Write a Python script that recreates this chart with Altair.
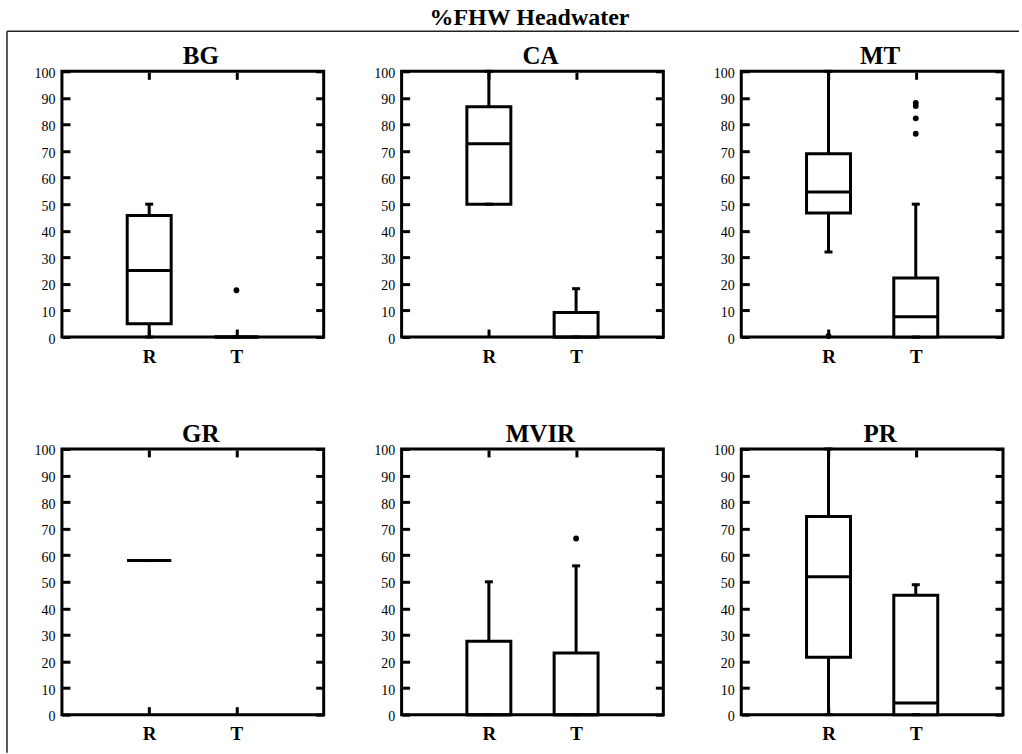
import altair as alt
import pandas as pd

# ---- data ----
panel_names = ["BG", "CA", "MT", "GR", "MVIR", "PR"]
groups = ["R", "T"]
# per panel: [R, T]
lower_whisker = [[0, 0], [50, 0], [32, 0], [58, None], [0, 0], [0, 0]]
q1_values = [[5, 0], [50, 0], [46.7, 0], [58, None], [0, 0], [21.6, 0]]
median_values = [[25, 0], [72.7, 0], [54.6, 7.6], [58, None], [0, 0], [51.9, 4.4]]
q3_values = [[45.7, 0], [86.7, 9.2], [69, 22.2], [58, None], [27.6, 23.2], [74.6, 44.9]]
upper_whisker = [[50, 0], [100, 18.2], [100, 50], [58, None], [50, 56], [100, 48.9]]

outlier_panel = ["BG", "MT", "MT", "MT", "MT", "MT", "MVIR"]
outlier_group = ["T", "R", "T", "T", "T", "T", "T"]
outlier_value = [17.6, 0.4, 88.1, 86.9, 82.3, 76.5, 66.3]

y_tick_values = [0, 10, 20, 30, 40, 50, 60, 70, 80, 90, 100]
main_title = "%FHW Headwater"

FONT = "Liberation Serif"

rows = []
for i, p in enumerate(panel_names):
    for j, g in enumerate(groups):
        if median_values[i][j] is None:
            continue
        rows.append(dict(panel=p, group=g, lo=lower_whisker[i][j], q1=q1_values[i][j],
                         med=median_values[i][j], q3=q3_values[i][j], hi=upper_whisker[i][j]))
stats = pd.DataFrame(rows)
outliers = pd.DataFrame({"panel": outlier_panel, "group": outlier_group, "value": outlier_value})

x_scale = alt.Scale(type="point", domain=groups, padding=1)
y_scale = alt.Scale(domain=[0, 100], nice=False, zero=False)

TICK = 8

axis_left = alt.Axis(orient="left", values=y_tick_values, title=None, domain=False, grid=False,
                     offset=-TICK, tickSize=TICK, tickWidth=3, tickColor="black",
                     labelFont=FONT, labelFontSize=14, labelColor="black", labelPadding=7,
                     labelOffset=2)
axis_bottom = alt.Axis(orient="bottom", title=None, domain=False, grid=False,
                       offset=-TICK, tickSize=TICK - 1, tickWidth=3, tickColor="black",
                       labelFont=FONT, labelFontSize=19, labelFontWeight="bold",
                       labelColor="black", labelPadding=11, labelAngle=0)
axis_right = alt.Axis(orient="right", values=y_tick_values, title=None, domain=False, grid=False,
                      offset=-TICK, tickSize=TICK, tickWidth=3, tickColor="black", labels=False)
axis_top = alt.Axis(orient="top", title=None, domain=False, grid=False,
                    offset=-TICK, tickSize=TICK - 1, tickWidth=3, tickColor="black", labels=False)

W, H = 262, 266


def panel(name, with_frame=False, with_main_title=False):
    s = stats[stats["panel"] == name]
    o = outliers[outliers["panel"] == name]
    base = alt.Chart(s)
    whisker = base.mark_rule(color="black", strokeWidth=3).encode(
        x=alt.X("group:N", scale=x_scale, axis=axis_bottom),
        y=alt.Y("lo:Q", scale=y_scale, axis=axis_left),
        y2="hi:Q",
    )
    box = base.mark_bar(size=44, fill="white", stroke="black", strokeWidth=3).encode(
        x=alt.X("group:N", scale=x_scale, axis=None),
        y=alt.Y("q1:Q", scale=y_scale, axis=None),
        y2="q3:Q",
    )
    med = base.mark_tick(orient="horizontal", size=44, thickness=3, color="black", opacity=1).encode(
        x=alt.X("group:N", scale=x_scale, axis=axis_top),
        y=alt.Y("med:Q", scale=y_scale, axis=axis_right),
    )
    cap_lo = base.mark_tick(orient="horizontal", size=8, thickness=3, color="black", opacity=1).encode(
        x=alt.X("group:N", scale=x_scale, axis=None),
        y=alt.Y("lo:Q", scale=y_scale, axis=None),
    )
    cap_hi = base.mark_tick(orient="horizontal", size=8, thickness=3, color="black", opacity=1).encode(
        x=alt.X("group:N", scale=x_scale, axis=None),
        y=alt.Y("hi:Q", scale=y_scale, axis=None),
    )
    pts = alt.Chart(o).mark_point(filled=True, size=34, color="black", opacity=1).encode(
        x=alt.X("group:N", scale=x_scale, axis=None),
        y=alt.Y("value:Q", scale=y_scale, axis=None),
    )
    label = alt.Chart(pd.DataFrame({"name": [name]})).mark_text(
        font=FONT, fontSize=25, fontWeight="bold", color="black", align="center",
        baseline="alphabetic", clip=False,
    ).encode(text="name:N", x=alt.value(W / 2 + 8), y=alt.value(-7))
    layers = [whisker, box, med, cap_lo, cap_hi, pts, label]
    if with_frame:
        fd = pd.DataFrame({"k": [0]})
        top_rule = alt.Chart(fd).mark_rule(color="#222222", strokeWidth=1.5, clip=False).encode(
            x=alt.value(-55), x2=alt.value(958), y=alt.value(-40))
        left_rule = alt.Chart(fd).mark_rule(color="#222222", strokeWidth=1.5, clip=False).encode(
            x=alt.value(-55), y=alt.value(-40), y2=alt.value(682))
        layers += [top_rule, left_rule]
    if with_main_title:
        head = alt.Chart(pd.DataFrame({"t": [main_title]})).mark_text(
            font=FONT, fontSize=24, fontWeight="bold", color="black", align="center",
            baseline="alphabetic", clip=False,
        ).encode(text="t:N", x=alt.value(W / 2 - 3), y=alt.value(-46))
        layers.append(head)
    return alt.layer(*layers).properties(width=W, height=H).resolve_axis(
        x="independent", y="independent")


panels = [panel(n, n == "BG", n == "CA") for n in panel_names]

chart = alt.concat(*panels, columns=3, spacing={"row": 112, "column": 78}, bounds="flush").properties(
    padding={"left": 4, "top": 4, "right": 0, "bottom": 0},
    background="white",
).configure_view(stroke="black", strokeWidth=3)

chart.save("out.html", embed_options={"renderer": "svg", "actions": False})
